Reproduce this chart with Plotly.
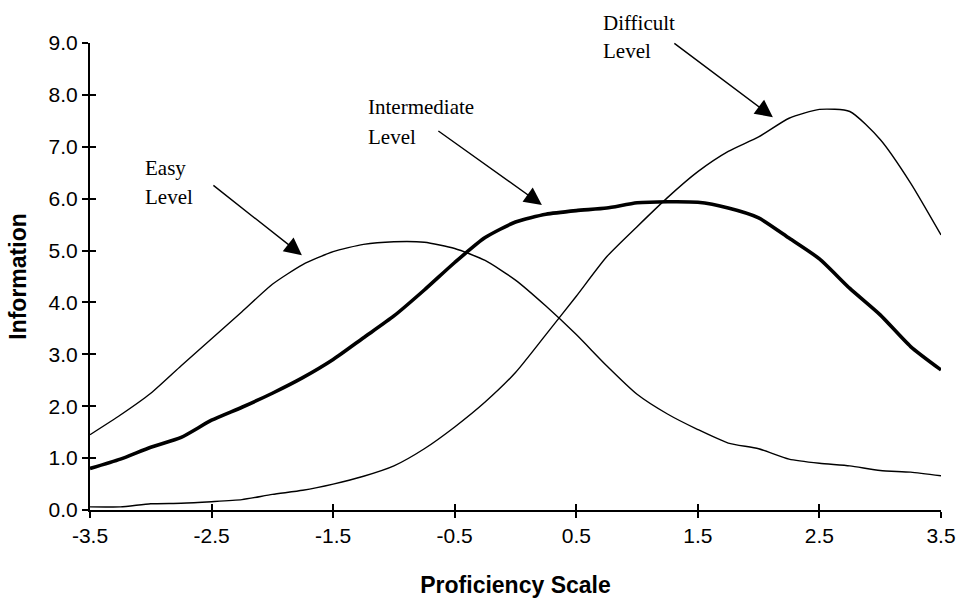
import plotly.graph_objects as go

# proficiency scale points
theta = [-3.5, -3.25, -3.0, -2.75, -2.5, -2.25, -2.0, -1.75, -1.5, -1.25,
         -1.0, -0.75, -0.5, -0.25, 0.0, 0.25, 0.5, 0.75, 1.0, 1.25,
         1.5, 1.75, 2.0, 2.25, 2.5, 2.75, 3.0, 3.25, 3.5]

easy = [1.45, 1.83, 2.25, 2.78, 3.30, 3.82, 4.35, 4.73, 4.98, 5.12,
        5.17, 5.16, 5.04, 4.81, 4.43, 3.93, 3.38, 2.78, 2.23, 1.85,
        1.55, 1.29, 1.18, 0.98, 0.90, 0.85, 0.76, 0.73, 0.66]

intermediate = [0.80, 0.98, 1.21, 1.40, 1.73, 1.98, 2.25, 2.55, 2.90, 3.32,
                3.74, 4.24, 4.77, 5.25, 5.55, 5.70, 5.77, 5.82, 5.92, 5.94,
                5.93, 5.82, 5.63, 5.24, 4.84, 4.27, 3.76, 3.15, 2.70]

difficult = [0.06, 0.06, 0.12, 0.13, 0.16, 0.20, 0.30, 0.38, 0.50, 0.65,
             0.85, 1.18, 1.60, 2.08, 2.65, 3.38, 4.12, 4.88, 5.46, 6.02,
             6.52, 6.91, 7.19, 7.55, 7.72, 7.68, 7.14, 6.30, 5.30]

x_ticks = [-3.5, -2.5, -1.5, -0.5, 0.5, 1.5, 2.5, 3.5]
x_labels = ["-3.5", "-2.5", "-1.5", "-0.5", "0.5", "1.5", "2.5", "3.5"]
y_ticks = [0, 1, 2, 3, 4, 5, 6, 7, 8, 9]
y_labels = ["0.0", "1.0", "2.0", "3.0", "4.0", "5.0", "6.0", "7.0", "8.0", "9.0"]

SANS = "Liberation Sans, Arial, sans-serif"
SERIF = "Liberation Serif, Times New Roman, serif"

fig = go.Figure()
for vals, w in [(easy, 1.4), (intermediate, 3.6), (difficult, 1.4)]:
    fig.add_trace(go.Scatter(x=theta, y=vals, mode="lines",
                             line=dict(color="black", width=w,
                                       shape="spline", smoothing=0.6),
                             showlegend=False, cliponaxis=False))

# dummy trace so the overlay axes (inner half of the ticks) get drawn
fig.add_trace(go.Scatter(x=[None], y=[None], xaxis="x2", yaxis="y2",
                         showlegend=False, hoverinfo="skip"))

axis_common = dict(showgrid=False, zeroline=False, color="black",
                   automargin=False)
tick_font = dict(family=SANS, size=21, color="black")
title_font = dict(family=SANS, size=23, color="black", weight="bold")

fig.update_layout(
    width=959, height=598,
    margin=dict(l=90, r=18, t=43, b=88),
    paper_bgcolor="white", plot_bgcolor="white",
    font=dict(family=SANS, color="black"),
    xaxis=dict(range=[-3.5, 3.5], tickvals=x_ticks, ticktext=x_labels,
               tickfont=tick_font, ticks="outside", ticklen=6, tickwidth=1.5,
               showline=True, linewidth=2, linecolor="black",
               title=dict(text="Proficiency Scale", standoff=31,
                          font=title_font),
               **axis_common),
    yaxis=dict(range=[0, 9], tickvals=y_ticks, ticktext=y_labels,
               tickfont=tick_font, ticks="outside", ticklen=6, tickwidth=1.5,
               showline=True, linewidth=2, linecolor="black",
               title=dict(text="Information", standoff=16, font=title_font),
               **axis_common),
    xaxis2=dict(range=[-3.5, 3.5], tickvals=x_ticks, ticks="inside",
                ticklen=6, tickwidth=1.5, showticklabels=False,
                overlaying="x", anchor="y2", side="bottom", **axis_common),
    yaxis2=dict(range=[0, 9], tickvals=y_ticks, ticks="inside",
                ticklen=6, tickwidth=1.5, showticklabels=False,
                overlaying="y", anchor="x2", side="left", **axis_common),
)

# labels (paper coords) and arrows
labels = [
    ("Easy", "Level", 0.062, 0.732, 0.670),
    ("Intermediate", "Level", 0.324, 0.863, 0.799),
    ("Difficult", "Level", 0.600, 1.043, 0.983),
]
for top, bottom, lx, ytop, ybot in labels:
    for txt, yy in [(top, ytop), (bottom, ybot)]:
        fig.add_annotation(x=lx, y=yy, xref="paper", yref="paper", text=txt,
                           showarrow=False, xanchor="left", yanchor="middle",
                           font=dict(family=SERIF, size=21, color="black"))

arrows = [(-1.757, 4.91, -90, -71), (0.217, 5.88, -105, -75),
          (2.117, 7.57, -100, -75)]
for ax_x, ax_y, dx, dy in arrows:
    fig.add_annotation(x=ax_x, y=ax_y, ax=dx, ay=dy, text="",
                       showarrow=True, arrowhead=2, arrowsize=2.5,
                       arrowwidth=1.4, arrowcolor="black", standoff=0)

# drop the default page margin so the figure fills the window exactly
fig.write_html(
    "out.html",
    config={"displayModeBar": False},
    post_script="document.body.style.margin='0';"
                "document.body.style.overflow='hidden';",
)
